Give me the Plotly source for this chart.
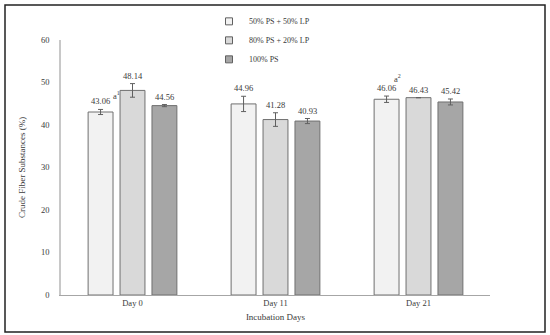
import plotly.graph_objects as go

days = ["Day 0", "Day 11", "Day 21"]
series_names = ["50% PS + 50% LP", "80% PS + 20% LP", "100% PS"]
s1 = [43.06, 44.96, 46.06]
s2 = [48.14, 41.28, 46.43]
s3 = [44.56, 40.93, 45.42]
e1 = [0.6, 1.8, 0.75]
e2 = [1.6, 1.6, 0.0]
e3 = [0.25, 0.6, 0.7]
colors = ["#f2f2f2", "#d9d9d9", "#a6a6a6"]
superscripts = [("Day 0", 0, "a<sup>1</sup>"), ("Day 21", 0, "a<sup>2</sup>")]

FONT = "Liberation Serif"
TXT = "#3a3a3a"
values = [s1, s2, s3]
errs = [e1, e2, e3]

fig = go.Figure()
for name, v, e, c in zip(series_names, values, errs, colors):
    fig.add_trace(go.Bar(
        x=days, y=v, name=name, showlegend=False, hoverinfo="skip",
        marker=dict(color=c, line=dict(color="#707070", width=1)),
        error_y=dict(type="data", array=e, visible=True, color="#606060",
                     thickness=1, width=2.5),
    ))
# legend entries with small square swatches
for name, c in zip(series_names, colors):
    fig.add_trace(go.Scatter(
        x=[None], y=[None], mode="markers", name=name, showlegend=True,
        marker=dict(symbol="square", size=7, color=c,
                    line=dict(color="#606060", width=1)),
    ))

bargap = 0.33
slot = (1 - bargap) / 3
annotations = []
for si, (v, e) in enumerate(zip(values, errs)):
    for ci in range(len(days)):
        annotations.append(dict(
            x=ci + (si - 1) * slot, y=v[ci] + e[ci], xref="x", yref="y",
            text=f"{v[ci]:.2f}", showarrow=False, yanchor="bottom", yshift=1,
            font=dict(family=FONT, size=8.5, color=TXT)))
for day, si, txt in superscripts:
    ci = days.index(day)
    v = values[si][ci] + errs[si][ci]
    annotations.append(dict(
        x=ci + (si - 1) * slot, y=v, xref="x", yref="y", text=txt,
        showarrow=False, xanchor="left", yanchor="bottom",
        xshift=10 if day == "Day 0" else 5, yshift=6 if day == "Day 0" else 10,
        font=dict(family=FONT, size=8.5, color=TXT)))

fig.update_layout(
    width=550, height=335,
    margin=dict(l=61, r=60, t=40, b=40, autoexpand=False),
    paper_bgcolor="white", plot_bgcolor="white",
    barmode="group", bargap=bargap, bargroupgap=0.22,
    font=dict(family=FONT, size=8.5, color=TXT),
    showlegend=True,
    legend=dict(x=0.345, y=1.13, xanchor="left", yanchor="top",
                orientation="v", font=dict(family=FONT, size=8, color=TXT),
                itemwidth=30, tracegroupgap=0, bgcolor="rgba(0,0,0,0)"),
    annotations=annotations,
    xaxis=dict(showline=True, linecolor="#a6a6a6", linewidth=1, showgrid=False,
               ticks="", tickfont=dict(family=FONT, size=8.5, color=TXT),
               title=dict(text="Incubation Days", standoff=6,
                          font=dict(family=FONT, size=9, color=TXT))),
    yaxis=dict(range=[0, 60], dtick=10, showline=True, linecolor="#c8c8c8",
               linewidth=1.5, showgrid=False, ticks="", ticklabelstandoff=8,
               zeroline=False,
               tickfont=dict(family=FONT, size=8.5, color=TXT),
               title=dict(text="Crude Fiber Substances (%)", standoff=14,
                          font=dict(family=FONT, size=9, color=TXT))),
    shapes=[dict(type="rect", xref="paper", yref="paper",
                 x0=(5 - 61) / 429, x1=(545 - 61) / 429,
                 y0=(295 - 332) / 255, y1=(295 - 5) / 255,
                 line=dict(color="#222222", width=1.5))],
)

fig.write_html("out.html",
               config={"displayModeBar": False},
               post_script="document.body.style.margin='0';"
                           "document.body.style.overflow='hidden';")
